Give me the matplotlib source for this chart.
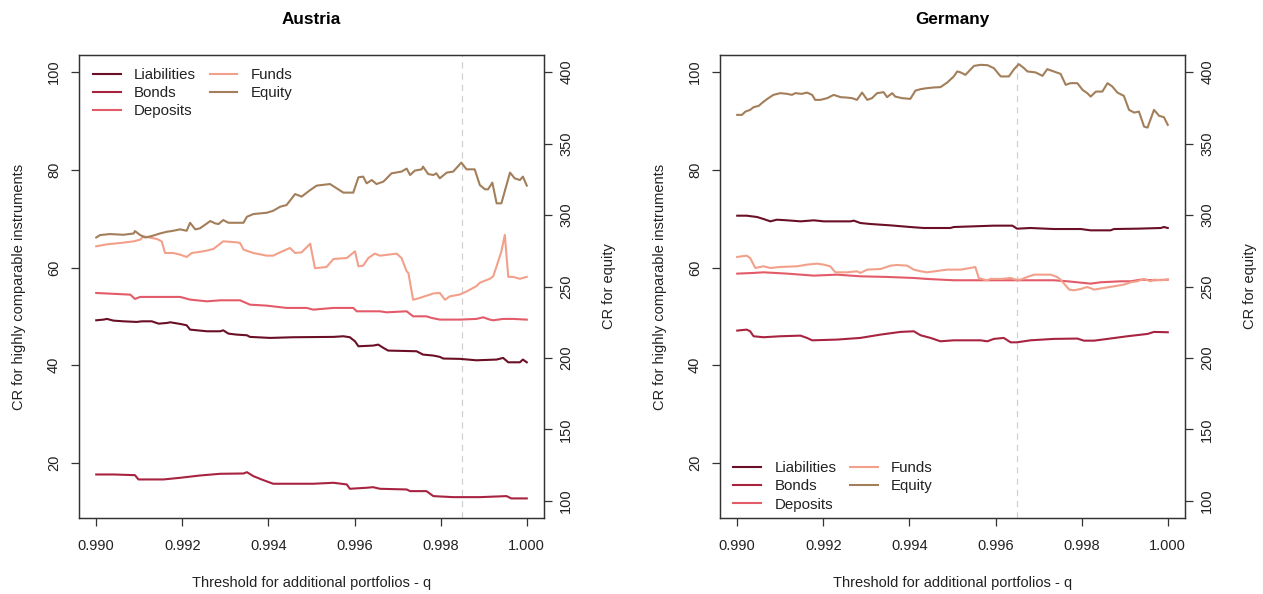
import matplotlib
matplotlib.use("Agg")
import matplotlib.pyplot as plt
from matplotlib.lines import Line2D

plt.rcParams['font.family'] = ['Liberation Sans', 'DejaVu Sans']

# ---------------- Data ----------------
countries = ["Austria", "Germany"]
series_names = ["Liabilities", "Bonds", "Deposits", "Funds", "Equity"]
colors = ["#6B0F26", "#A82340", "#E35B69", "#F2A08A", "#A37E5A"]
x_ticks = [0.990, 0.992, 0.994, 0.996, 0.998, 1.000]
left_ticks = [20, 40, 60, 80, 100]
right_ticks = [100, 150, 200, 250, 300, 350, 400]
vline_q = {"Austria": 0.9985, "Germany": 0.9965}

# Austria
at_liab_x = [0.99000, 0.99017, 0.99025, 0.99040, 0.99063, 0.99094, 0.99106, 0.99129, 0.99145, 0.99164,
             0.99172, 0.99195, 0.99210, 0.99218, 0.99257, 0.99288, 0.99295, 0.99307, 0.99326, 0.99350,
             0.99357, 0.99404, 0.99458, 0.99551, 0.99574, 0.99589, 0.99601, 0.99609, 0.99643, 0.99655,
             0.99667, 0.99678, 0.99744, 0.99759, 0.99783, 0.99798, 0.99806, 0.99845, 0.99883, 0.99930,
             0.99945, 0.99957, 0.99984, 0.99991, 1.00000]
at_liab_y = [49.21, 49.35, 49.49, 49.14, 49.00, 48.87, 49.00, 49.00, 48.52, 48.66,
             48.80, 48.46, 48.19, 47.30, 46.96, 46.96, 47.16, 46.48, 46.28, 46.14,
             45.81, 45.60, 45.74, 45.81, 45.94, 45.74, 44.91, 43.89, 44.03, 44.23,
             43.56, 43.01, 42.87, 42.19, 41.99, 41.72, 41.38, 41.31, 41.02, 41.17,
             41.51, 40.61, 40.61, 41.17, 40.61]

at_bond_x = [0.99000, 0.99040, 0.99090, 0.99098, 0.99156, 0.99195, 0.99241, 0.99288, 0.99342, 0.99350,
             0.99365, 0.99384, 0.99411, 0.99504, 0.99551, 0.99582, 0.99589, 0.99628, 0.99643, 0.99659,
             0.99721, 0.99729, 0.99767, 0.99783, 0.99829, 0.99891, 0.99953, 0.99964, 1.00000]
at_bond_y = [17.65, 17.65, 17.51, 16.63, 16.63, 16.97, 17.44, 17.79, 17.85, 18.12,
             17.31, 16.63, 15.75, 15.75, 15.95, 15.61, 14.72, 14.93, 15.05, 14.72,
             14.58, 14.24, 14.24, 13.22, 13.01, 13.01, 13.22, 12.75, 12.75]

at_dep_x = [0.99000, 0.99079, 0.99090, 0.99102, 0.99195, 0.99218, 0.99257, 0.99288, 0.99334, 0.99357,
            0.99396, 0.99442, 0.99489, 0.99504, 0.99551, 0.99597, 0.99605, 0.99659, 0.99674, 0.99721,
            0.99736, 0.99767, 0.99779, 0.99798, 0.99845, 0.99883, 0.99899, 0.99914, 0.99922, 0.99945,
            0.99968, 1.00000]
at_dep_y = [54.80, 54.46, 53.58, 53.99, 53.99, 53.44, 53.09, 53.30, 53.30, 52.41,
            52.21, 51.74, 51.74, 51.39, 51.74, 51.74, 51.05, 51.05, 50.84, 51.05,
            50.02, 50.02, 49.69, 49.35, 49.35, 49.49, 49.82, 49.35, 49.21, 49.49,
            49.49, 49.35]

at_fund_x = [0.99000, 0.99025, 0.99056, 0.99087, 0.99102, 0.99110, 0.99141, 0.99152, 0.99160, 0.99179,
             0.99195, 0.99210, 0.99222, 0.99249, 0.99272, 0.99295, 0.99326, 0.99334, 0.99342, 0.99365,
             0.99396, 0.99411, 0.99427, 0.99450, 0.99462, 0.99477, 0.99497, 0.99508, 0.99535, 0.99551,
             0.99582, 0.99601, 0.99609, 0.99620, 0.99632, 0.99647, 0.99659, 0.99698, 0.99709, 0.99721,
             0.99725, 0.99736, 0.99752, 0.99783, 0.99798, 0.99810, 0.99821, 0.99845, 0.99860,
             0.99883, 0.99891, 0.99914, 0.99922, 0.99930, 0.99941, 0.99949, 0.99957, 0.99968, 0.99984,
             1.00000]
at_fund_y = [64.35, 64.76, 65.03, 65.37, 65.71, 66.39, 65.85, 65.37, 62.98, 62.98,
             62.64, 62.17, 62.98, 63.33, 63.80, 65.37, 65.17, 65.03, 63.67, 62.98,
             62.44, 62.44, 63.12, 64.01, 62.98, 63.12, 64.89, 59.87, 60.12, 61.76,
             61.96, 63.33, 60.26, 60.39, 61.96, 62.85, 62.44, 62.85, 61.96, 59.24,
             58.90, 53.40, 53.80, 54.70, 54.80, 53.40, 54.10, 54.50, 55.10,
             56.20, 56.90, 57.70, 58.20, 60.30, 63.30, 66.70, 58.10, 58.10, 57.70,
             58.10]

at_eq_x = [0.99000, 0.99009, 0.99032, 0.99063, 0.99087, 0.99090, 0.99102, 0.99114, 0.99129, 0.99148,
           0.99164, 0.99179, 0.99195, 0.99210, 0.99218, 0.99230, 0.99241, 0.99265, 0.99276, 0.99284,
           0.99295, 0.99307, 0.99342, 0.99350, 0.99365, 0.99396, 0.99411, 0.99427, 0.99442, 0.99462,
           0.99477, 0.99497, 0.99512, 0.99543, 0.99574, 0.99597, 0.99609, 0.99620, 0.99628, 0.99640,
           0.99651, 0.99667, 0.99686, 0.99709, 0.99721, 0.99729, 0.99740, 0.99756, 0.99759, 0.99771,
           0.99783, 0.99790, 0.99798, 0.99814, 0.99829, 0.99848, 0.99860, 0.99879, 0.99891, 0.99903,
           0.99910, 0.99920, 0.99930, 0.99941, 0.99961, 0.99972, 0.99984, 0.99991, 1.00000]
at_eq_y = [284.3, 286.0, 286.7, 286.2, 287.1, 288.8, 286.0, 284.3, 285.3, 287.1,
           288.3, 289.0, 290.0, 289.0, 294.6, 290.0, 290.7, 295.8, 294.2, 293.7,
           296.5, 294.6, 294.6, 298.8, 300.7, 301.6, 303.0, 305.8, 307.0, 314.7,
           312.9, 317.5, 320.6, 321.7, 315.7, 315.7, 326.4, 326.9, 322.2, 324.5,
           321.7, 323.4, 329.2, 330.4, 332.5, 328.0, 331.1, 332.0, 333.9, 328.7,
           328.0, 329.2, 325.7, 329.7, 330.4, 336.7, 332.0, 332.0, 321.0, 318.0,
           318.0, 322.7, 308.2, 308.2, 329.7, 325.7, 324.5, 326.9, 320.6]

# Germany
de_liab_x = [0.99000, 0.99022, 0.99046, 0.99061, 0.99077, 0.99092, 0.99116, 0.99147, 0.99178, 0.99201,
             0.99263, 0.99271, 0.99286, 0.99309, 0.99356, 0.99402, 0.99433, 0.99495, 0.99503, 0.99596,
             0.99639, 0.99650, 0.99681, 0.99735, 0.99798, 0.99821, 0.99867, 0.99875, 0.99929, 0.99984,
             0.99991, 1.00000]
de_liab_y = [70.62, 70.62, 70.35, 69.94, 69.46, 69.80, 69.67, 69.46, 69.67, 69.46,
             69.46, 69.60, 69.12, 68.92, 68.64, 68.30, 68.10, 68.10, 68.30, 68.58,
             68.58, 67.96, 68.10, 67.89, 67.89, 67.62, 67.62, 67.89, 67.96, 68.10,
             68.30, 68.10]

de_bond_x = [0.99000, 0.99022, 0.99030, 0.99038, 0.99061, 0.99100, 0.99147, 0.99162, 0.99174, 0.99232,
             0.99286, 0.99333, 0.99379, 0.99410, 0.99426, 0.99449, 0.99472, 0.99503, 0.99565, 0.99581,
             0.99596, 0.99619, 0.99635, 0.99650, 0.99681, 0.99735, 0.99790, 0.99805, 0.99829, 0.99860,
             0.99906, 0.99953, 0.99968, 1.00000]
de_bond_y = [47.10, 47.30, 46.96, 45.94, 45.74, 45.94, 46.07, 45.60, 45.11, 45.26,
             45.60, 46.28, 46.83, 46.96, 46.14, 45.60, 44.91, 45.11, 45.11, 44.91,
             45.40, 45.60, 44.70, 44.70, 45.11, 45.40, 45.47, 45.04, 45.04, 45.40,
             45.94, 46.42, 46.83, 46.76]

de_dep_x = [0.99000, 0.99038, 0.99061, 0.99116, 0.99178, 0.99232, 0.99286, 0.99348, 0.99410, 0.99441,
            0.99503, 0.99735, 0.99767, 0.99821, 0.99844, 0.99891, 0.99914, 0.99937, 0.99968, 1.00000]
de_dep_y = [58.76, 58.90, 59.03, 58.76, 58.35, 58.55, 58.21, 58.08, 57.87, 57.67,
            57.40, 57.40, 57.19, 56.71, 56.99, 57.19, 57.19, 57.53, 57.40, 57.53]

de_fund_x = [0.99000, 0.99022, 0.99030, 0.99042, 0.99061, 0.99077, 0.99100, 0.99139, 0.99162, 0.99185,
             0.99201, 0.99216, 0.99228, 0.99255, 0.99278, 0.99286, 0.99302, 0.99333, 0.99356, 0.99371,
             0.99395, 0.99410, 0.99426, 0.99441, 0.99488, 0.99519, 0.99542, 0.99553, 0.99561, 0.99573,
             0.99581, 0.99588, 0.99612, 0.99635, 0.99647, 0.99658, 0.99674, 0.99689, 0.99728, 0.99743,
             0.99751, 0.99771, 0.99782, 0.99798, 0.99813, 0.99829, 0.99852, 0.99875, 0.99898, 0.99914,
             0.99929, 0.99945, 0.99960, 0.99968, 0.99984, 1.00000]
de_fund_y = [62.17, 62.44, 61.96, 59.92, 60.26, 59.92, 60.12, 60.26, 60.60, 60.80,
             60.60, 60.26, 59.03, 59.03, 59.24, 58.90, 59.58, 59.71, 60.39, 60.53,
             60.39, 59.58, 59.24, 59.03, 59.58, 59.58, 59.92, 60.12, 57.87, 57.53,
             57.40, 57.67, 57.67, 57.87, 57.53, 57.53, 58.08, 58.55, 58.55, 58.08,
             57.53, 55.49, 55.35, 55.62, 56.03, 55.49, 55.83, 56.17, 56.51, 56.99,
             57.19, 57.67, 57.19, 57.53, 57.40, 57.53]

de_eq_x = [0.99000, 0.99011, 0.99019, 0.99030, 0.99038, 0.99050, 0.99057, 0.99069, 0.99084, 0.99100,
           0.99116, 0.99127, 0.99135, 0.99150, 0.99162, 0.99174, 0.99181, 0.99193, 0.99209, 0.99224,
           0.99240, 0.99255, 0.99267, 0.99278, 0.99290, 0.99302, 0.99313, 0.99325, 0.99340, 0.99348,
           0.99360, 0.99367, 0.99383, 0.99402, 0.99414, 0.99426, 0.99441, 0.99457, 0.99472, 0.99488,
           0.99503, 0.99511, 0.99519, 0.99530, 0.99550, 0.99565, 0.99581, 0.99596, 0.99612, 0.99631,
           0.99643, 0.99654, 0.99666, 0.99674, 0.99693, 0.99709, 0.99720, 0.99735, 0.99751, 0.99763,
           0.99774, 0.99790, 0.99802, 0.99813, 0.99821, 0.99833, 0.99848, 0.99860, 0.99871, 0.99883,
           0.99898, 0.99910, 0.99922, 0.99933, 0.99945, 0.99953, 0.99968, 0.99980, 0.99991, 1.00000]
de_eq_y = [370.1, 370.1, 372.4, 373.6, 375.5, 376.4, 378.3, 381.1, 384.1, 385.3,
           384.8, 384.1, 385.3, 384.8, 385.7, 384.1, 380.6, 380.6, 381.8, 384.1,
           382.5, 382.2, 381.8, 380.6, 385.7, 380.6, 381.8, 385.3, 386.0, 382.5,
           385.3, 382.9, 381.8, 381.3, 387.1, 388.1, 388.8, 389.3, 389.5, 392.8,
           397.0, 400.5, 399.8, 398.1, 404.4, 405.1, 404.9, 402.8, 397.0, 397.0,
           402.1, 405.6, 402.8, 400.5, 399.8, 397.4, 402.1, 400.5, 398.8, 391.1,
           392.3, 392.3, 387.6, 385.3, 382.9, 386.4, 386.4, 392.3, 390.0, 385.7,
           383.4, 373.6, 371.7, 372.4, 361.9, 361.2, 373.6, 369.4, 368.5, 363.1]

data = {
    "Austria": [(at_liab_x, at_liab_y), (at_bond_x, at_bond_y), (at_dep_x, at_dep_y),
                (at_fund_x, at_fund_y), (at_eq_x, at_eq_y)],
    "Germany": [(de_liab_x, de_liab_y), (de_bond_x, de_bond_y), (de_dep_x, de_dep_y),
                (de_fund_x, de_fund_y), (de_eq_x, de_eq_y)],
}

# ---------------- Figure ----------------
W, H = 1263, 594
fig = plt.figure(figsize=(W / 100, H / 100), dpi=100)
fig.patch.set_facecolor("white")

FS = 10.5
LFS = 10.8
TXT = "#222222"
axes_px = {"Austria": (79, 55, 465, 463), "Germany": (720, 55, 465, 463)}
legend_loc = {"Austria": ("upper left", (0.030, 0.972)), "Germany": ("lower left", (0.028, 0.014))}

for c in countries:
    lx, ty, w, h = axes_px[c]
    ax = fig.add_axes([lx / W, (H - ty - h) / H, w / W, h / H])
    ax2 = ax.twinx()
    ax.set_xlim(0.98960, 1.00040)
    ax.set_ylim(8.74, 103.51)
    ax2.set_ylim(88.0, 412.0)

    handles = []
    for i, name in enumerate(series_names):
        xs, ys = data[c][i]
        target = ax2 if name == "Equity" else ax
        target.plot(xs, ys, color=colors[i], lw=1.5, solid_joinstyle="round")
        handles.append(Line2D([], [], color=colors[i], lw=1.5))

    ax.axvline(vline_q[c], color="#D0D0D0", lw=0.9, ls=(0, (5, 4)), zorder=0)

    ax.set_xticks(x_ticks)
    ax.set_xticklabels([f"{v:.3f}" for v in x_ticks])
    ax.set_yticks(left_ticks)
    ax2.set_yticks(right_ticks)
    for a in (ax, ax2):
        a.tick_params(axis="both", labelsize=FS, colors="#333333", labelcolor=TXT,
                      length=6, width=0.9, direction="out")
        for s in a.spines.values():
            s.set_color("#333333")
            s.set_linewidth(0.9)
    ax.tick_params(axis="x", pad=9)
    ax.tick_params(axis="y", labelrotation=90, pad=7)
    ax2.tick_params(axis="y", labelrotation=90, pad=5)
    for t in ax.get_yticklabels():
        t.set_va("center")
    for t in ax2.get_yticklabels():
        t.set_va("center")

    ax.set_title(c, fontsize=12.3, fontweight="bold", color="black", pad=22)
    ax.set_xlabel("Threshold for additional portfolios - q", fontsize=FS, color=TXT)
    ax.xaxis.set_label_coords(0.5, -0.140)
    ax.xaxis.label.set_va("center")
    ax.set_ylabel("CR for highly comparable instruments", fontsize=FS, color=TXT)
    ax.yaxis.set_label_coords(-0.128, 0.5)
    ax.yaxis.label.set_va("center")
    ax2.set_ylabel("CR for equity", fontsize=FS, color=TXT)
    ax2.yaxis.set_label_coords(1.14, 0.5)
    ax2.yaxis.label.set_va("center")

    loc, anchor = legend_loc[c]
    leg = ax2.legend(handles, series_names, loc=loc, bbox_to_anchor=anchor, ncol=2,
                     frameon=False, fontsize=LFS, handlelength=1.85, handletextpad=0.9,
                     columnspacing=0.9, labelspacing=0.28, borderpad=0, borderaxespad=0)
    for t in leg.get_texts():
        t.set_color(TXT)

fig.savefig("out.png", dpi=100, facecolor="white")
